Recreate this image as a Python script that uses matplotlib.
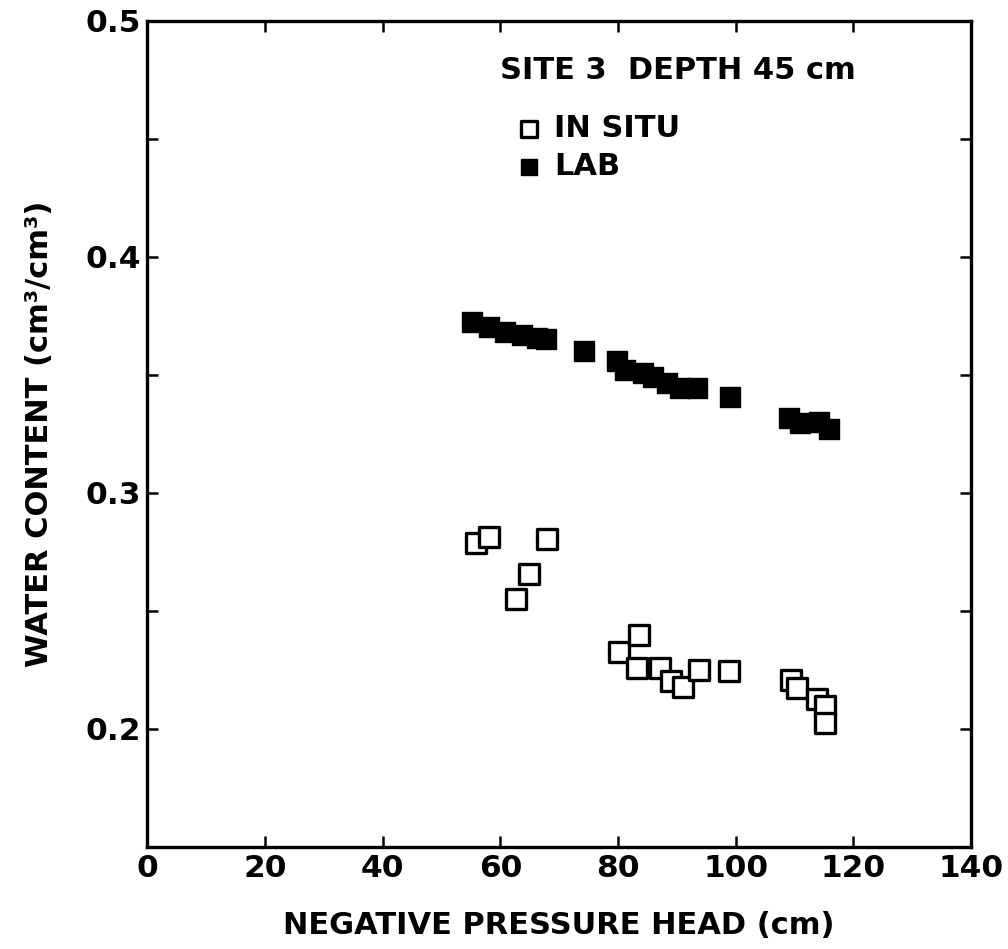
import matplotlib
matplotlib.use("Agg")
import matplotlib.pyplot as plt

# in situ (open squares)
insitu_head = [55.9, 58.1, 62.7, 64.8, 68.0, 80.1, 83.6, 83.3, 87.2, 89.0, 91.0,
               93.8, 98.9, 109.4, 110.4, 113.8, 115.2, 115.2]
insitu_theta = [0.279, 0.2815, 0.255, 0.2657, 0.2804, 0.2328, 0.2398, 0.2257, 0.2257,
                0.2203, 0.2177, 0.225, 0.2247, 0.2208, 0.2172, 0.2125, 0.2097, 0.2027]

# lab (filled squares)
lab_head = [55.2, 58.0, 60.8, 63.6, 66.2, 67.8, 74.2, 79.9, 81.2, 84.3, 86.0,
            88.3, 90.6, 93.4, 99.1, 109.0, 111.0, 114.1, 115.8]
lab_theta = [0.3726, 0.3705, 0.3683, 0.3669, 0.3655, 0.3651, 0.3603, 0.356, 0.352,
             0.3507, 0.3493, 0.3465, 0.3444, 0.3444, 0.3405, 0.3317, 0.3295, 0.3302, 0.327]

xticks = [0, 20, 40, 60, 80, 100, 120, 140]
yticks = [0.2, 0.3, 0.4, 0.5]
yminor = [0.15, 0.25, 0.35, 0.45]

plt.rcParams['font.family'] = ['DejaVu Sans']
plt.rcParams['font.weight'] = 'bold'

fig = plt.figure(figsize=(10.08, 9.49), dpi=100)
ax = fig.add_axes([0.1463, 0.1075, 0.8170, 0.8705])

ax.scatter(insitu_head, insitu_theta, marker='s', s=190, facecolors='white',
           edgecolors='black', linewidths=2.4, label='IN SITU', zorder=3)
ax.scatter(lab_head, lab_theta, marker='s', s=210, facecolors='black',
           edgecolors='black', linewidths=1, label='LAB', zorder=3)

ax.set_xlim(0, 140)
ax.set_ylim(0.15, 0.5)
ax.set_xticks(xticks)
ax.set_xticklabels([str(v) for v in xticks])
ax.set_yticks(yticks)
ax.set_yticklabels(['%.1f' % v for v in yticks])
ax.set_yticks(yminor, minor=True)

ax.tick_params(which='both', direction='in', top=True, right=True,
               width=1.8, labelsize=22.5, pad=5)
ax.tick_params(which='major', length=8)
ax.tick_params(which='minor', length=8)
for sp in ax.spines.values():
    sp.set_linewidth(2.4)

ax.set_xlabel('NEGATIVE PRESSURE HEAD (cm)', fontsize=22, fontweight='bold', labelpad=20)
ax.set_ylabel('WATER CONTENT (cm³/cm³)', fontsize=22, fontweight='bold', labelpad=22)

ax.text(60, 0.479, 'SITE 3  DEPTH 45 cm', fontsize=22, fontweight='bold',
        va='center', ha='left')
ax.legend(loc='upper left', bbox_to_anchor=(0.447, 0.887), frameon=False,
          fontsize=22, markerscale=0.8, handletextpad=0.35, labelspacing=0.3,
          handlelength=0.9, borderpad=0.0, borderaxespad=0.0)

fig.savefig('out.png', dpi=100)
